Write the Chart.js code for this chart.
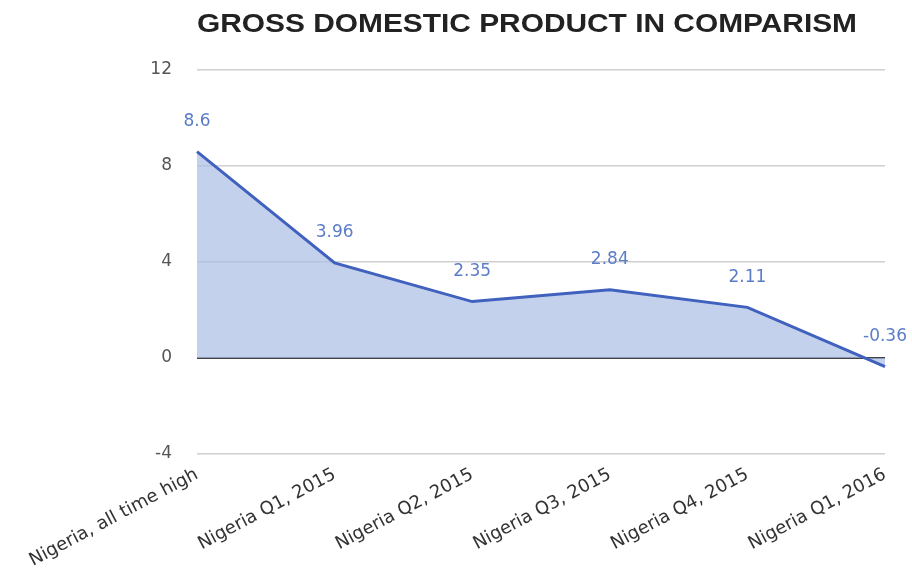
<!DOCTYPE html>
<html><head><meta charset="utf-8">
<script src="https://cdn.jsdelivr.net/npm/chart.js@4/dist/chart.umd.min.js"></script>
<style>html,body{margin:0;padding:0;background:#fff}#wrap{width:912px;height:571px}</style>
</head><body><div id="wrap"><canvas id="c" width="912" height="571"></canvas></div>
<script>
const categories = ["Nigeria, all time high","Nigeria Q1, 2015","Nigeria Q2, 2015","Nigeria Q3, 2015","Nigeria Q4, 2015","Nigeria Q1, 2016"];
const gdpValues = [8.6, 3.96, 2.35, 2.84, 2.11, -0.36];
const yTicks = [-4, 0, 4, 8, 12];
const titleText = "GROSS DOMESTIC PRODUCT IN COMPARISM";

const FONT = '"DejaVu Sans", "Liberation Sans", Arial, sans-serif';

const titlePlugin = {
  id: 'customTitle',
  afterDraw(chart) {
    const ctx = chart.ctx;
    ctx.save();
    ctx.font = 'bold 26px "Liberation Sans", Arial, sans-serif';
    ctx.fillStyle = '#222';
    ctx.textAlign = 'center';
    ctx.textBaseline = 'middle';
    const w = ctx.measureText(titleText).width;
    const sx = 660 / w;
    ctx.translate(527, 25);
    ctx.scale(sx, 1);
    ctx.fillText(titleText, 0, 0);
    ctx.restore();
  }
};
const valueLabels = {
  id: 'valueLabels',
  afterDatasetsDraw(chart) {
    const ctx = chart.ctx;
    const meta = chart.getDatasetMeta(0);
    ctx.save();
    ctx.font = '17px ' + FONT;
    ctx.fillStyle = '#5b7cc7';
    ctx.textAlign = 'center';
    ctx.textBaseline = 'middle';
    meta.data.forEach((pt, i) => {
      const txt = String(gdpValues[i]);
      const w = ctx.measureText(txt).width;
      let x = pt.x;
      if (x + w / 2 > 908) x = 908 - w / 2;
      ctx.fillText(txt, x, pt.y - 30);
    });
    ctx.restore();
  }
};

new Chart(document.getElementById('c'), {
  type: 'line',
  data: {
    labels: categories,
    datasets: [{
      data: gdpValues,
      borderColor: '#4061bd',
      borderWidth: 3,
      backgroundColor: 'rgba(170,190,230,0.7)',
      fill: 'origin',
      pointRadius: 0,
      tension: 0
    }]
  },
  options: {
    responsive: false,
    animation: false,
    layout: { padding: { left: 0, right: 27, top: 70, bottom: 0 } },
    plugins: { legend: { display: false }, tooltip: { enabled: false }, title: { display: false } },
    scales: {
      x: {
        offset: false,
        grid: { display: false, drawTicks: false },
        border: { display: false },
        ticks: {
          color: '#333',
          font: { size: 18, family: FONT },
          minRotation: 28, maxRotation: 28,
          padding: 10,
          autoSkip: false
        },
        afterFit(scale) { scale.height = 571 - 454; }
      },
      y: {
        min: -4, max: 12,
        afterBuildTicks(scale) { scale.ticks = yTicks.map(v => ({ value: v })); },
        afterFit(scale) { scale.width = 197; },
        grid: {
          drawTicks: false,
          color: ctx => ctx.tick && ctx.tick.value === 0 ? '#444' : '#d0d0d0',
          lineWidth: ctx => ctx.tick && ctx.tick.value === 0 ? 2 : 1.5
        },
        border: { display: false },
        ticks: {
          color: '#555',
          font: { size: 17, family: FONT },
          padding: 25
        }
      }
    }
  },
  plugins: [titlePlugin, valueLabels]
});
</script></body></html>
